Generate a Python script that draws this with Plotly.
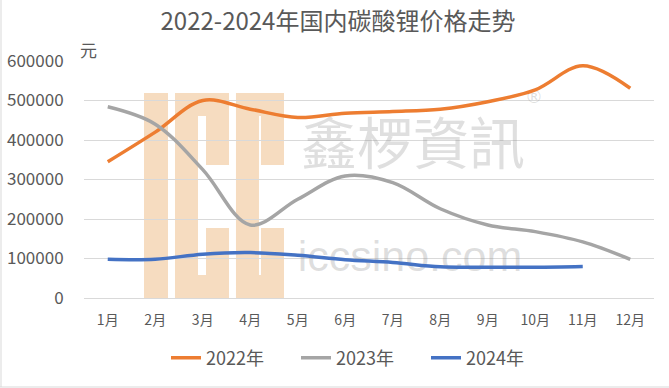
import plotly.graph_objects as go

# ---- data ----
months = ["1月", "2月", "3月", "4月", "5月", "6月", "7月", "8月", "9月", "10月", "11月", "12月"]
price_2022 = [345000, 420000, 500000, 478000, 457000, 468000, 472000, 478000, 497000, 527000, 588000, 531000]
price_2023 = [484000, 440000, 325000, 185000, 250000, 309000, 292000, 226000, 185000, 168000, 142000, 98000]
price_2024 = [98000, 98000, 111000, 115000, 108000, 97000, 90000, 79000, 78000, 78000, 80000]
series_names = ["2022年", "2023年", "2024年"]
series_colors = ["#ED7D31", "#A5A5A5", "#4472C4"]
y_ticks = [0, 100000, 200000, 300000, 400000, 500000, 600000]

FONT = "Noto Sans CJK SC, Noto Sans, sans-serif"
W, H = 669, 388
PL, PR, PT, PB = 84, 654, 61, 298  # plot area in pixels


def px_x(px):
    return (px - PL) / (PR - PL)


def px_y(py):
    return (PB - py) / (PB - PT)


def dx(px):  # pixel -> data x
    return -0.5 + (px - PL) / (PR - PL) * 12


def dy(py):  # pixel -> data y
    return (PB - py) / (PB - PT) * 600000


fig = go.Figure()

wm = "rgba(140,140,140,0.28)"
# watermark text (drawn first so lines lie above)
fig.add_trace(go.Scatter(x=[dx(413)], y=[dy(150)], mode="text", text=["鑫椤資訊"],
                         textfont=dict(family="Noto Sans CJK TC", size=56, color=wm),
                         showlegend=False, hoverinfo="skip", cliponaxis=False))
fig.add_trace(go.Scatter(x=[dx(534)], y=[dy(98)], mode="text", text=["®"],
                         textfont=dict(family="DejaVu Sans", size=18, color=wm),
                         showlegend=False, hoverinfo="skip", cliponaxis=False))
fig.add_trace(go.Scatter(x=[dx(410)], y=[dy(260)], mode="text", text=["iccsino.com"],
                         textfont=dict(family="Liberation Sans", size=43, color=wm),
                         showlegend=False, hoverinfo="skip", cliponaxis=False))

for name, vals, col in zip(series_names, [price_2022, price_2023, price_2024], series_colors):
    fig.add_trace(go.Scatter(
        x=list(range(len(vals))), y=vals, name=name, mode="lines",
        line=dict(color=col, width=3.5, shape="spline", smoothing=1.0),
    ))

# ICC logo shapes
tan = "rgba(240,196,150,0.6)"
shapes = [
    dict(type="rect", xref="paper", yref="paper", x0=px_x(144), x1=px_x(168), y0=px_y(298), y1=px_y(93),
         fillcolor=tan, line=dict(width=0), layer="between"),
]


def c_path(xl, xr, yt, yb, w, g1, g2):
    lx, rx = xl + w / 2, xr - w / 2
    ty, by = yt + w / 2, yb - w / 2
    pts = [(rx, g1), (rx, ty), (lx, ty), (lx, by), (rx, by), (rx, g2)]
    return "M " + " L ".join(f"{px_x(a):.4f},{px_y(b):.4f}" for a, b in pts)


for xl, xr in [(175, 229), (236, 284)]:
    shapes.append(dict(type="path", xref="paper", yref="paper", path=c_path(xl, xr, 93, 298, 23, 165, 228),
                       line=dict(color=tan, width=23), layer="between"))

# chart border (left and bottom)
shapes.append(dict(type="line", xref="paper", yref="paper", x0=px_x(1), x1=px_x(1), y0=px_y(387), y1=px_y(0),
                   line=dict(color="#D9D9D9", width=1)))
shapes.append(dict(type="line", xref="paper", yref="paper", x0=px_x(0), x1=px_x(669), y0=px_y(387), y1=px_y(387),
                   line=dict(color="#D9D9D9", width=1)))

fig.update_layout(
    width=W, height=H,
    margin=dict(l=PL, r=W - PR, t=PT, b=H - PB, autoexpand=False),
    paper_bgcolor="white", plot_bgcolor="white",
    font=dict(family=FONT, color="#595959"),
    title=dict(text="2022-2024年国内碳酸锂价格走势", x=338 / W, xref="container", xanchor="center",
               y=1 - 22 / H, yref="container", yanchor="middle",
               font=dict(size=24, color="#595959", family=FONT)),
    xaxis=dict(range=[-0.5, 11.5], tickmode="array", tickvals=list(range(12)), ticktext=months,
               showgrid=False, zeroline=False, showline=False, automargin=False,
               ticks="outside", ticklen=9, tickcolor="rgba(0,0,0,0)",
               tickfont=dict(size=14, color="#595959")),
    yaxis=dict(range=[0, 600000], tickmode="array", tickvals=y_ticks, ticktext=[str(v) for v in y_ticks],
               showgrid=True, gridcolor="#D9D9D9", gridwidth=1, automargin=False,
               zeroline=True, zerolinecolor="#D9D9D9", zerolinewidth=1, showline=False,
               ticks="outside", ticklen=16, tickcolor="rgba(0,0,0,0)",
               tickfont=dict(size=17, color="#595959")),
    legend=dict(orientation="h", x=px_x(361), xanchor="center", y=px_y(358), yanchor="middle",
                font=dict(size=18, color="#595959"), itemwidth=30, traceorder="normal",
                entrywidth=85, entrywidthmode="pixels"),
    shapes=shapes,
    annotations=[dict(text="元", xref="paper", yref="paper", x=px_x(88), y=px_y(50), xanchor="center",
                      yanchor="middle", showarrow=False, font=dict(size=17, color="#595959"))],
    showlegend=True,
)

fig.write_html("out.html", config={"displayModeBar": False},
               post_script="document.body.style.margin='0px';document.body.style.overflow='hidden';")
